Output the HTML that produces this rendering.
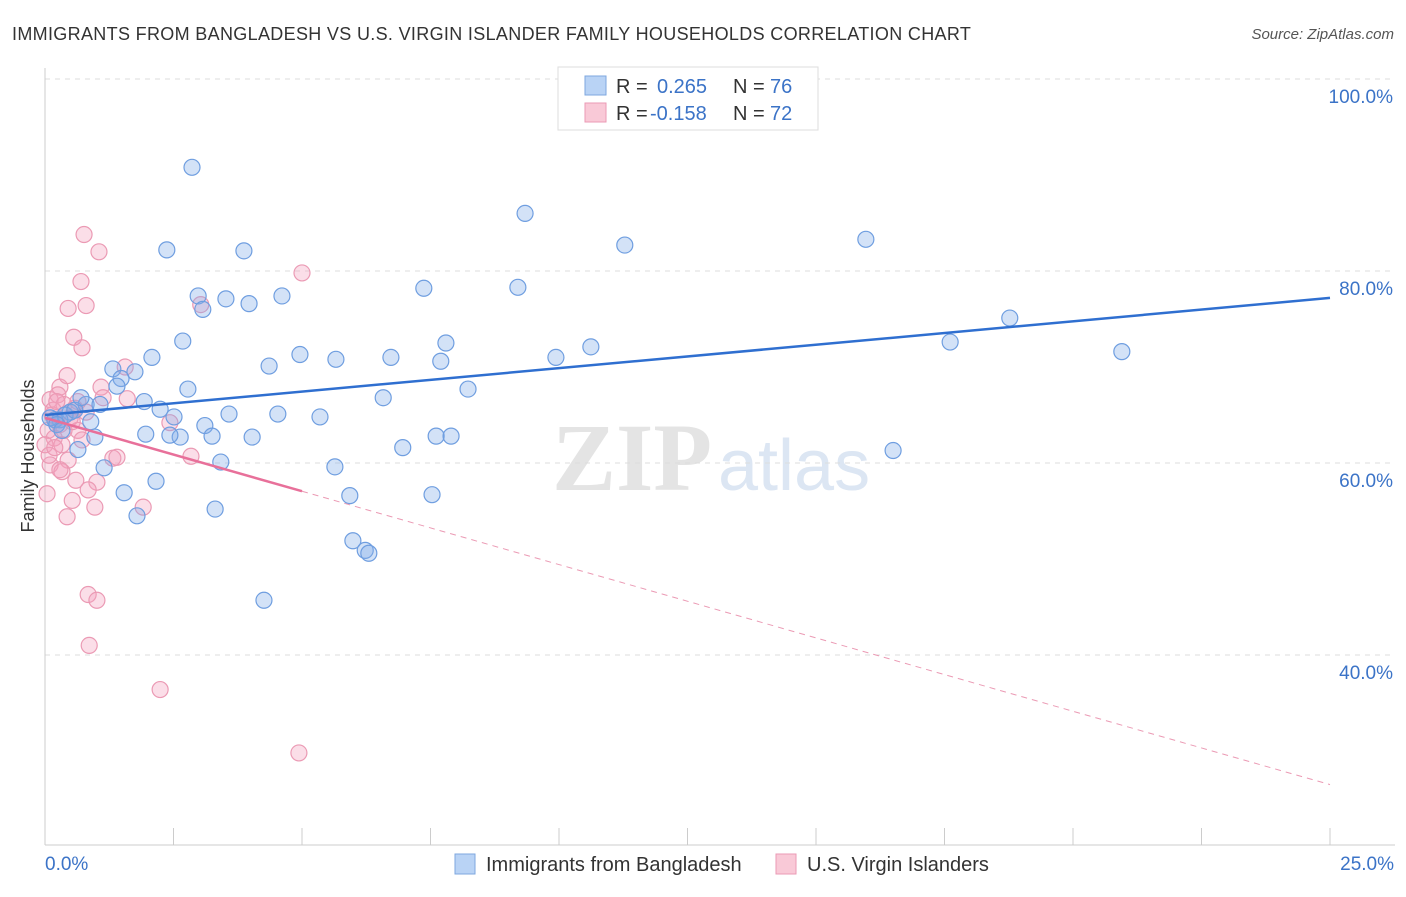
<!DOCTYPE html>
<html><head><meta charset="utf-8"><style>
body{margin:0;background:#fff;font-family:"Liberation Sans",sans-serif;}
</style></head><body>
<svg id="c" width="1406" height="892" xmlns="http://www.w3.org/2000/svg">
<text x="12" y="40" font-size="18" fill="#333" letter-spacing="0.33">IMMIGRANTS FROM BANGLADESH VS U.S. VIRGIN ISLANDER FAMILY HOUSEHOLDS CORRELATION CHART</text>
<text x="1394" y="39" font-size="15" fill="#555" font-style="italic" text-anchor="end">Source: ZipAtlas.com</text>
<text x="0" y="0" transform="translate(34,456) rotate(-90)" font-size="18" fill="#333" text-anchor="middle">Family Households</text>
<g><text x="552" y="490" font-size="96" fill="#e4e4e4" font-family="Liberation Serif,serif" font-weight="bold">ZIP</text><text x="718" y="490" font-size="72" fill="#dce6f3">atlas</text></g>
<g id="grid"></g><g id="axes"></g><g id="pts"></g><g id="lines"></g>
<g>
<rect x="558" y="67" width="260" height="63" fill="#fff" stroke="#ddd"/>
<rect x="585" y="76" width="21" height="19" fill="#b9d3f5" stroke="#7ea7df"/>
<text x="616" y="93" font-size="20" fill="#333">R =</text><text x="657" y="93" font-size="20" fill="#3b73c7">0.265</text>
<text x="733" y="93" font-size="20" fill="#333">N =</text><text x="770" y="93" font-size="20" fill="#3b73c7">76</text>
<rect x="585" y="103" width="21" height="19" fill="#f9c9d7" stroke="#eb9ab4"/>
<text x="616" y="120" font-size="20" fill="#333">R =</text><text x="650" y="120" font-size="20" fill="#3b73c7">-0.158</text>
<text x="733" y="120" font-size="20" fill="#333">N =</text><text x="770" y="120" font-size="20" fill="#3b73c7">72</text>
</g>
<g>
<rect x="455" y="854" width="20" height="20" fill="#b9d3f5" stroke="#7ea7df"/>
<text x="486" y="871" font-size="20" fill="#333">Immigrants from Bangladesh</text>
<rect x="776" y="854" width="20" height="20" fill="#f9c9d7" stroke="#eb9ab4"/>
<text x="807" y="871" font-size="20" fill="#333">U.S. Virgin Islanders</text>
</g>
</svg>
<script>
const yTicks=[40,60,80,100];
const yTickLabels=["40.0%","60.0%","80.0%","100.0%"];
const xTickLabels=["0.0%","25.0%"];
const blueX=[2.86,2.37,3.87,9.34,11.28,15.97,2.98,3.52,3.97,4.61,7.37,9.20,3.07,2.68,2.08,4.96,5.66,6.73,7.80,7.70,9.94,10.62,17.61,18.77,20.95,1.32,1.75,1.48,1.40,2.78,4.36,6.58,8.23,1.93,2.24,2.51,3.58,4.53,5.35,0.80,1.07,0.49,0.29,0.89,1.96,2.63,2.43,3.11,3.25,4.03,6.96,7.61,7.90,16.50,0.64,1.15,3.42,5.64,1.54,2.16,1.79,3.31,5.93,7.53,5.99,6.23,6.30,4.26,0.19,0.39,0.10,0.58,0.97,0.23,0.33,0.70];
const blueY=[90.8,82.2,82.1,86.0,82.7,83.3,77.4,77.1,76.6,77.4,78.2,78.3,76.0,72.7,71.0,71.3,70.8,71.0,72.5,70.6,71.0,72.1,72.6,75.1,71.6,69.8,69.5,68.8,68.0,67.7,70.1,66.8,67.7,66.4,65.6,64.8,65.1,65.1,64.8,66.1,66.1,65.3,64.5,64.3,63.0,62.7,62.9,63.9,62.8,62.7,61.6,62.8,62.8,61.3,61.4,59.5,60.1,59.6,56.9,58.1,54.5,55.2,56.6,56.7,51.9,50.9,50.6,45.7,64.5,65.0,64.7,65.5,62.7,64.0,63.4,66.8];
const pinkX=[0.76,1.05,0.70,5.00,0.45,0.80,3.03,0.56,0.72,1.56,0.29,0.43,1.09,1.13,1.60,0.10,0.25,0.37,0.58,0.14,0.21,0.29,0.06,0.18,0.33,0.64,0.72,0.45,0.10,0.33,0.60,1.01,0.84,0.53,0.97,0.43,1.91,1.32,1.40,2.84,2.43,0.84,1.01,0.86,2.24,4.94,0.04,0.16,0.23,0.49,0.00,0.08,0.37,0.80,0.29,0.53,0.64,0.19];
const pinkY=[83.8,82.0,78.9,79.8,76.1,76.4,76.5,73.1,72.0,70.0,67.9,69.1,67.9,66.8,66.7,66.6,67.1,66.1,65.7,65.0,64.5,64.0,63.4,62.6,61.9,63.4,62.4,60.3,59.8,59.1,58.2,58.0,57.2,56.1,55.4,54.4,55.4,60.5,60.6,60.7,64.2,46.3,45.7,41.0,36.4,29.8,56.8,65.5,66.4,64.7,61.9,60.8,63.4,65.3,59.3,64.3,66.4,61.6];
const blueTrend=[65.0,77.2];
const pinkTrend=[64.7,26.5];
const pinkSolidEnd=5.0;
const NS="http://www.w3.org/2000/svg";
const xs=v=>45+v/25*1285;
const ys=v=>79+(100-v)*9.6;
function mk(t,a,p){const e=document.createElementNS(NS,t);for(const k in a)e.setAttribute(k,a[k]);document.getElementById(p).appendChild(e);return e;}
yTicks.forEach((t,i)=>{
 const g=mk('line',{x1:45,x2:1395,y1:ys(t),y2:ys(t),stroke:'#ddd','stroke-dasharray':'5,5'},'grid');
 
 
 const l=mk('text',{x:1393,y:ys(t)+24,'font-size':19,fill:'#3b73c7','text-anchor':'end'},'axes');
 l.textContent=yTickLabels[i];
 
 
});
let ax=mk('line',{x1:45,x2:45,y1:68,y2:845,stroke:'#ccc'},'axes');


ax=mk('line',{x1:45,x2:1395,y1:845,y2:845,stroke:'#ccc'},'axes');


for(let i=0;i<=10;i++){const t=mk('line',{x1:xs(i*2.5),x2:xs(i*2.5),y1:828,y2:845,stroke:'#ccc'},'axes');
 
 }
[[0,'start',45],[1,'end',1394]].forEach(([i,a,x])=>{const l=mk('text',{x:x,y:870,'font-size':19,fill:'#3b73c7','text-anchor':a},'axes');l.textContent=xTickLabels[i];
 
 });
pinkX.forEach((x,i)=>{const c=mk('circle',{cx:xs(x),cy:ys(pinkY[i]),r:8,fill:'rgba(244,160,188,0.35)',stroke:'#eb9ab4','stroke-width':1.2},'pts');
 
 });
blueX.forEach((x,i)=>{const c=mk('circle',{cx:xs(x),cy:ys(blueY[i]),r:8,fill:'rgba(130,172,232,0.35)',stroke:'#6f9ee0','stroke-width':1.2},'pts');
 
 });
let tl=mk('line',{x1:xs(0),y1:ys(blueTrend[0]),x2:xs(25),y2:ys(blueTrend[1]),stroke:'#2f6fd0','stroke-width':2.5},'lines');


const pAt=x=>pinkTrend[0]+(pinkTrend[1]-pinkTrend[0])*x/25;
tl=mk('line',{x1:xs(0),y1:ys(pinkTrend[0]),x2:xs(pinkSolidEnd),y2:ys(pAt(pinkSolidEnd)),stroke:'#e8709a','stroke-width':2.5},'lines');


tl=mk('line',{x1:xs(pinkSolidEnd),y1:ys(pAt(pinkSolidEnd)),x2:xs(25),y2:ys(pinkTrend[1]),stroke:'#eb9ab4','stroke-width':1,'stroke-dasharray':'6,5'},'lines');


</script>
</body></html>
